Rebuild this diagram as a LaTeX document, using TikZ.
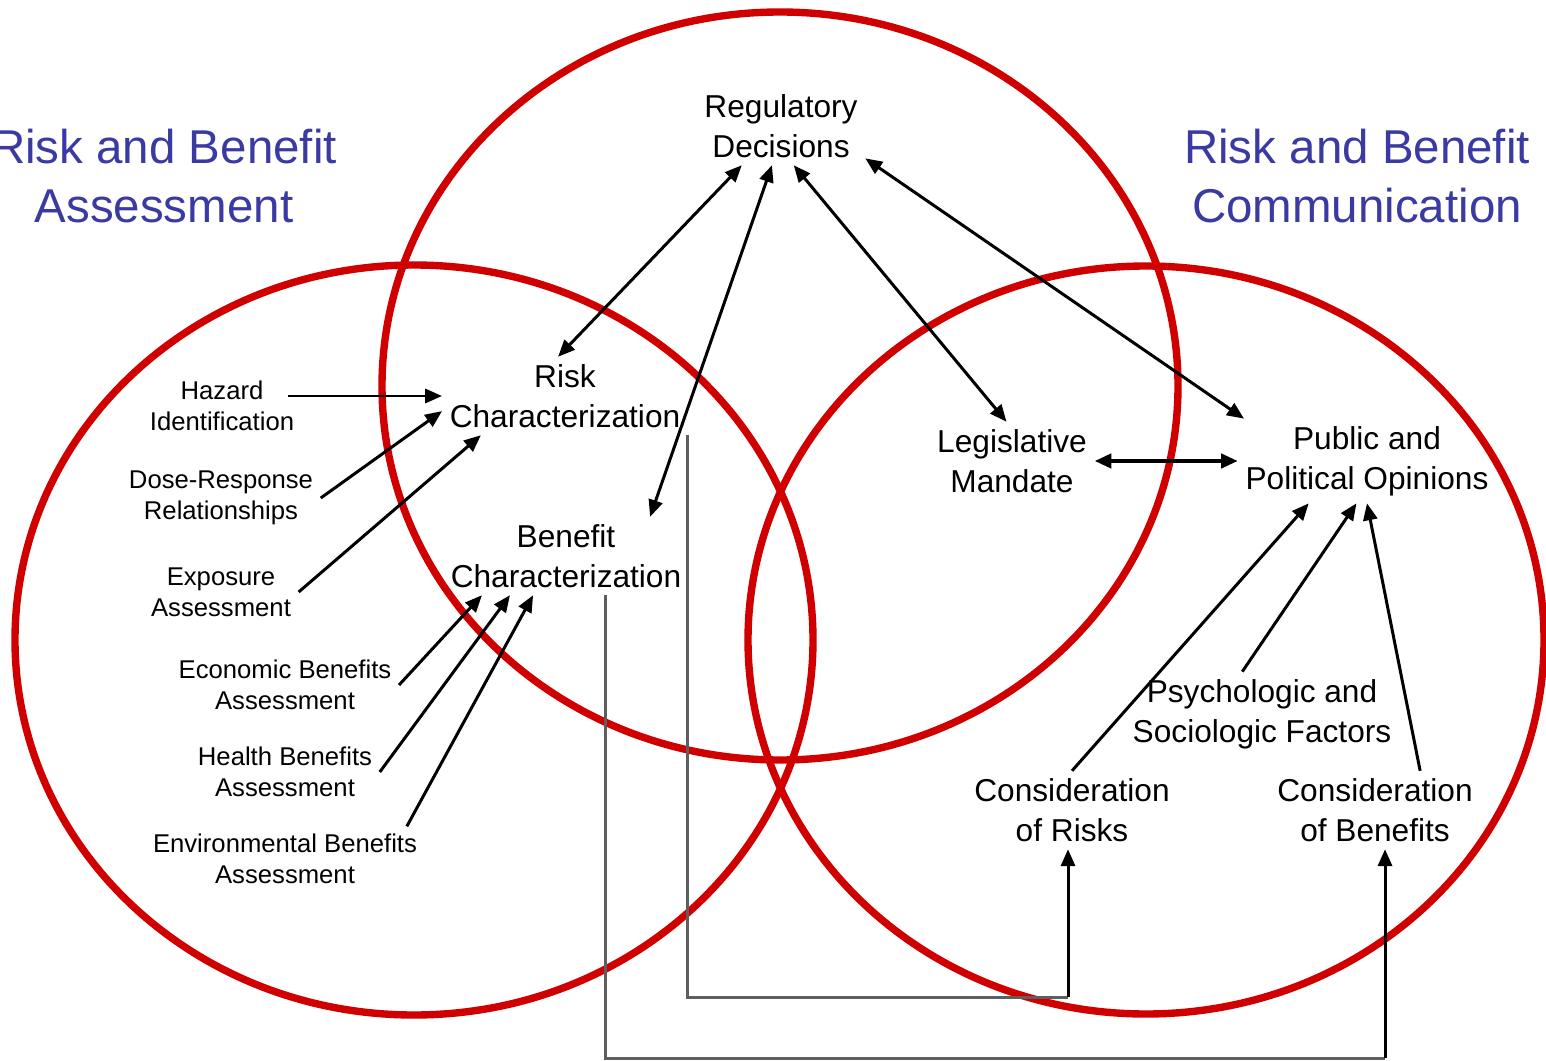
\documentclass[tikz,border=0pt]{standalone}
\usepackage{fontspec}
\setmainfont{Liberation Sans}
\usetikzlibrary{arrows.meta}
\definecolor{RBRed}{HTML}{D00000}
\definecolor{RBBlue}{HTML}{3A3AA2}
\definecolor{RBGray}{HTML}{5E5E5E}

\begin{document}
\begin{tikzpicture}[x=0.01cm,y=-0.01cm,
    circ/.style={draw=RBRed,line width=2.1pt},
    title/.style={text=RBBlue,align=center,font=\fontsize{13.5}{16.8}\selectfont},
    item/.style={align=center,inner sep=2pt,font=\fontsize{9}{11.3}\selectfont},
    sub/.style={align=center,inner sep=2pt,font=\fontsize{7.3}{8.8}\selectfont},
    link/.style={-{Triangle[length=4.8pt,width=4pt]},line width=0.85pt},
    both/.style={{Triangle[length=4.8pt,width=4pt]}-{Triangle[length=4.8pt,width=4pt]},line width=0.85pt},
    feed/.style={draw=RBGray,line width=0.85pt}]
  \useasboundingbox (0,0) rectangle (1546,1061);

  % the three overlapping fields
  \draw[circ] (780,386) ellipse [x radius=398, y radius=374];
  \draw[circ] (414,640) ellipse [x radius=399, y radius=375];
  \draw[circ] (1146,640) ellipse [x radius=398, y radius=374];

  \node[title] (assess) at (164,176) {Risk and Benefit\\Assessment};
  \node[title] (commun) at (1357,176) {Risk and Benefit\\Communication};

  \node[item] (regdec) at (781,126) {Regulatory\\Decisions};
  \node[item] (riskc)  at (565,396) {Risk\\Characterization};
  \node[item] (benc)   at (566,556) {Benefit\\Characterization};
  \node[item] (legis)  at (1012,461) {Legislative\\Mandate};
  \node[item] (public) at (1367,461) {Public and\\Political Opinions};
  \node[item] (psych)  at (1262,714) {Psychologic and\\Sociologic Factors};
  \node[item] (consr)  at (1072,810) {Consideration\\of Risks};
  \node[item] (consb)  at (1375,810) {Consideration\\of Benefits};

  \node[sub] (hazard) at (222,406) {Hazard\\Identification};
  \node[sub] (dose)   at (221,498) {Dose-Response\\Relationships};
  \node[sub] (expo)   at (221,592) {Exposure\\Assessment};
  \node[sub] (econ)   at (285,685) {Economic Benefits\\Assessment};
  \node[sub] (health) at (285,772) {Health Benefits\\Assessment};
  \node[sub] (enviro) at (285,859) {Environmental Benefits\\Assessment};

  % decisions talk to every characterization and to the public side
  \draw[both] (regdec.225) -- (riskc.100);
  \draw[both] (regdec.257) -- (benc.25);
  \draw[both] (regdec.288) -- (legis.98);
  \draw[both] (regdec.339) -- (public.161);
  \draw[both,line width=1.4pt] (legis.east) -- (public.west);

  % assessment inputs
  \draw[link,shorten <=-4pt] (riskc.west -| hazard.east) -- (riskc.west);
  \foreach \src/\dst in {dose.east/riskc.187, expo.east/riskc.205,
                         econ.east/benc.205, health.east/benc.215,
                         enviro.15/benc.230}
    \draw[link] (\src) -- (\dst);

  % communication inputs
  \draw[link] (consr.north) -- (public.216);
  \draw[link] (psych.115) -- (public.256);
  \draw[link] (consb.41) -- (public.south);

  % characterizations feed the considerations from below
  \coordinate (rbend) at (1068,997);
  \coordinate (bdrop) at (605,1058);
  \coordinate (bbend) at (1385,1058);
  \draw[feed] (riskc.south east) |- (rbend);
  \draw[link] (rbend) -- (rbend |- consr.south);
  \draw[feed] (bdrop |- benc.south) -- (bdrop) -- (bbend);
  \draw[link] (bbend) -- (bbend |- consb.south);
\end{tikzpicture}
\end{document}
